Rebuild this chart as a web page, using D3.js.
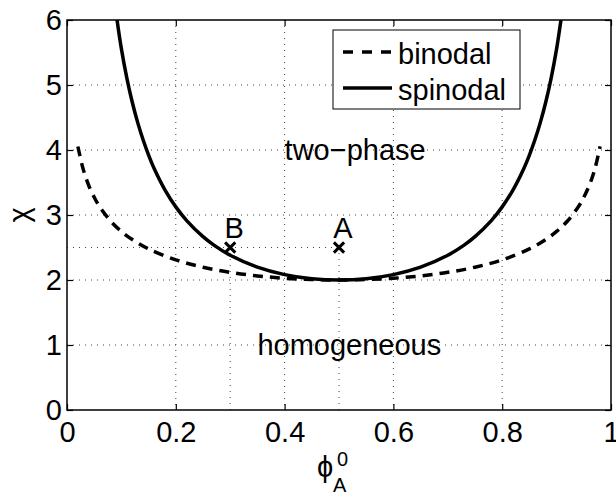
<!DOCTYPE html>
<html>
<head>
<meta charset="utf-8">
<script src="https://cdn.jsdelivr.net/npm/d3@7"></script>
<style>
  body { margin: 0; background: #fff; }
  text { font-family: "Liberation Sans", Arial, sans-serif; fill: #000; }
</style>
</head>
<body>
<div id="chart"></div>
<script>
// binodal curve (dashed)
var binodalPhi = [0.02, 0.03, 0.04, 0.05, 0.06, 0.08, 0.10, 0.12, 0.15, 0.20, 0.25, 0.30, 0.35, 0.40, 0.45, 0.50,
                  0.55, 0.60, 0.65, 0.70, 0.75, 0.80, 0.85, 0.88, 0.90, 0.92, 0.94, 0.95, 0.96, 0.97, 0.98]
var binodalChi = [4.054, 3.698, 3.454, 3.272, 3.127, 2.908, 2.747, 2.622, 2.478, 2.310, 2.197, 2.118, 2.063, 2.027, 2.007, 2.000,
                  2.007, 2.027, 2.063, 2.118, 2.197, 2.310, 2.478, 2.622, 2.747, 2.908, 3.127, 3.272, 3.454, 3.698, 4.054]

// spinodal curve (solid)
var spinodalPhi = [0.092, 0.10, 0.11, 0.12, 0.13, 0.14, 0.15, 0.16, 0.18, 0.20, 0.22, 0.25, 0.27, 0.30, 0.35, 0.40, 0.45, 0.50,
                   0.55, 0.60, 0.65, 0.70, 0.73, 0.75, 0.78, 0.80, 0.82, 0.84, 0.85, 0.86, 0.87, 0.88, 0.89, 0.90, 0.908]
var spinodalChi = [6.00, 5.556, 5.107, 4.735, 4.421, 4.153, 3.922, 3.720, 3.388, 3.125, 2.914, 2.667, 2.537, 2.381, 2.198, 2.083, 2.020, 2.000,
                   2.020, 2.083, 2.198, 2.381, 2.537, 2.667, 2.914, 3.125, 3.388, 3.720, 3.922, 4.153, 4.421, 4.735, 5.107, 5.556, 6.00]

// marked points
var pointNames = ['B', 'A']
var pointPhi   = [0.3, 0.5]
var pointChi   = [2.5, 2.5]

var xTicks = [0, 0.2, 0.4, 0.6, 0.8, 1]
var yTicks = [0, 1, 2, 3, 4, 5, 6]
var legendNames = ['binodal', 'spinodal']

var W = 616, H = 496
var fs = 29
var margin = {top: 20, right: 5, bottom: 86, left: 67}
var width = W - margin.left - margin.right
var height = H - margin.top - margin.bottom

var svg = d3.select('#chart').append('svg')
    .attr('width', W)
    .attr('height', H)

var g = svg.append('g')
    .attr('transform', 'translate(' + margin.left + ',' + margin.top + ')')

var x = d3.scaleLinear().domain([0, 1]).range([0, width])
var y = d3.scaleLinear().domain([0, 6]).range([height, 0])

g.append('clipPath').attr('id', 'clip')
  .append('rect').attr('width', width).attr('height', height)

// dotted grid
function dotted(sel) {
  return sel.attr('stroke', '#444')
    .attr('stroke-width', 1)
    .attr('stroke-dasharray', '1,5')
    .attr('fill', 'none')
}
g.selectAll('.gx').data(xTicks.slice(1, -1)).enter().append('line')
    .attr('x1', d => x(d)).attr('x2', d => x(d))
    .attr('y1', 0).attr('y2', height)
    .call(dotted)
g.selectAll('.gy').data(yTicks.slice(1, -1)).enter().append('line')
    .attr('y1', d => y(d)).attr('y2', d => y(d))
    .attr('x1', 0).attr('x2', width)
    .call(dotted)

// guide lines to the marked points
g.append('line')
    .attr('x1', x(0)).attr('x2', x(d3.max(pointPhi)))
    .attr('y1', y(pointChi[0])).attr('y2', y(pointChi[0]))
    .call(dotted)
pointPhi.forEach(function(p, i) {
  g.append('line')
    .attr('x1', x(p)).attr('x2', x(p))
    .attr('y1', y(0)).attr('y2', y(pointChi[i]))
    .call(dotted)
})

// curves
var line = d3.line()
    .x(d => x(d[0]))
    .y(d => y(d[1]))
    .curve(d3.curveCatmullRom)

var plot = g.append('g').attr('clip-path', 'url(#clip)')

plot.append('path')
    .datum(d3.zip(binodalPhi, binodalChi))
    .attr('fill', 'none')
    .attr('stroke', '#000')
    .attr('stroke-width', 3.5)
    .attr('stroke-dasharray', '10,7')
    .attr('d', line)

plot.append('path')
    .datum(d3.zip(spinodalPhi, spinodalChi))
    .attr('fill', 'none')
    .attr('stroke', '#000')
    .attr('stroke-width', 3.5)
    .attr('d', line)

// point markers
var cross = d3.symbol().type(d3.symbolX).size(70)
pointPhi.forEach(function(p, i) {
  g.append('path')
    .attr('d', cross)
    .attr('transform', 'translate(' + x(p) + ',' + y(pointChi[i]) + ')')
    .attr('fill', 'none')
    .attr('stroke', '#000')
    .attr('stroke-width', 3)
  g.append('text')
    .attr('x', x(p) + 4)
    .attr('y', y(pointChi[i]) - 10)
    .attr('text-anchor', 'middle')
    .attr('font-size', fs)
    .text(pointNames[i])
})

// region labels
g.append('text')
    .attr('x', x(0.4)).attr('y', y(4)).attr('dy', '0.35em')
    .attr('font-size', fs)
    .text('two\u2212phase')
g.append('text')
    .attr('x', x(0.35)).attr('y', y(1)).attr('dy', '0.36em')
    .attr('font-size', fs)
    .text('homogeneous')

// axes box
var tickLen = 6
g.append('rect')
    .attr('width', width).attr('height', height)
    .attr('fill', 'none').attr('stroke', '#000').attr('stroke-width', 1.5)

g.append('g').attr('transform', 'translate(0,' + height + ')')
    .call(d3.axisBottom(x).tickValues(xTicks).tickSizeInner(-tickLen).tickSizeOuter(0).tickPadding(11)
      .tickFormat(d3.format('~g')))
g.append('g')
    .call(d3.axisTop(x).tickValues(xTicks).tickSizeInner(-tickLen).tickSizeOuter(0).tickFormat(''))
g.append('g')
    .call(d3.axisLeft(y).tickValues(yTicks).tickSizeInner(-tickLen).tickSizeOuter(0).tickPadding(5)
      .tickFormat(d3.format('d')))
g.append('g').attr('transform', 'translate(' + width + ',0)')
    .call(d3.axisRight(y).tickValues(yTicks).tickSizeInner(-tickLen).tickSizeOuter(0).tickFormat(''))

g.selectAll('.domain').remove()
g.selectAll('.tick line').attr('stroke', '#000').attr('stroke-width', 1.2)
g.selectAll('.tick text')
    .attr('font-family', '"Liberation Sans", Arial, sans-serif')
    .attr('font-size', fs)
    .attr('fill', '#000')

// axis labels
svg.append('text')
    .attr('transform', 'translate(29,' + (margin.top + height / 2) + ') rotate(-90)')
    .attr('text-anchor', 'middle')
    .attr('font-size', fs)
    .text('\u03c7')

svg.append('text')
    .attr('x', 317).attr('y', 477)
    .attr('font-size', fs)
    .text('\u03d5')
svg.append('text').attr('x', 337).attr('y', 466).attr('font-size', 20).text('0')
svg.append('text').attr('x', 333).attr('y', 492).attr('font-size', 20).text('A')

// legend
var leg = svg.append('g')
leg.append('rect')
    .attr('x', 333).attr('y', 30).attr('width', 187).attr('height', 79)
    .attr('fill', '#fff').attr('stroke', '#000').attr('stroke-width', 1)
legendNames.forEach(function(name, i) {
  var yy = 52 + i * 36
  leg.append('line')
    .attr('x1', 343).attr('x2', 392).attr('y1', yy).attr('y2', yy)
    .attr('stroke', '#000').attr('stroke-width', 3.5)
    .attr('stroke-dasharray', i === 0 ? '10,9' : null)
  leg.append('text')
    .attr('x', 398).attr('y', yy + 12)
    .attr('font-size', fs)
    .text(name)
})
</script>
</body>
</html>
